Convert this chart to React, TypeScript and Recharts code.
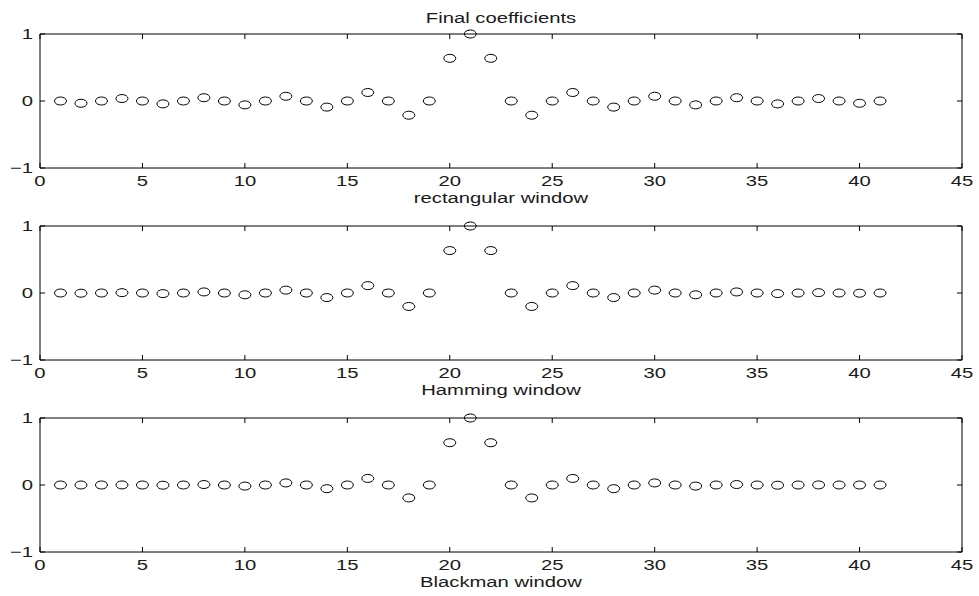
import React from "react";
import { ScatterChart, Scatter, XAxis, YAxis, ReferenceArea } from "recharts";

const sampleIndex = [1,2,3,4,5,6,7,8,9,10,11,12,13,14,15,16,17,18,19,20,21,22,23,24,25,26,27,28,29,30,31,32,33,34,35,36,37,38,39,40,41];

const rectangularCoeffs = [0,-0.034,0,0.037,0,-0.043,0,0.049,0,-0.058,0,0.071,0,-0.091,0,0.127,0,-0.212,0,0.637,1,0.637,0,-0.212,0,0.127,0,-0.091,0,0.071,0,-0.058,0,0.049,0,-0.043,0,0.037,0,-0.034,0];

const hammingCoeffs = [0,-0.003,0,0.005,0,-0.009,0,0.016,0,-0.027,0,0.043,0,-0.068,0,0.11,0,-0.201,0,0.633,1,0.633,0,-0.201,0,0.11,0,-0.068,0,0.043,0,-0.027,0,0.016,0,-0.009,0,0.005,0,-0.003,0];

const blackmanCoeffs = [0,0,0,0.001,0,-0.003,0,0.007,0,-0.016,0,0.031,0,-0.055,0,0.098,0,-0.193,0,0.631,1,0.631,0,-0.193,0,0.098,0,-0.055,0,0.031,0,-0.016,0,0.007,0,-0.003,0,0.001,0,0,0];

const xTicks = [0,5,10,15,20,25,30,35,40,45];
const yTicks = [-1,0,1];

const panelTitles = ["Final coefficients"];
const panelXLabels = ["rectangular window","Hamming window","Blackman window"];

const FONT = "'Liberation Sans', Arial, Helvetica, sans-serif";
const SX = 1.35;
const PLOT_W = 922;
const PLOT_H = 134;
const TICK = 5;

const StretchText = ({ x, y, anchor, children }: any) => (
  <text
    transform={`translate(${x},${y}) scale(${SX},1)`}
    x={0}
    y={0}
    textAnchor={anchor}
    fontFamily={FONT}
    fontSize={15}
    fill="#1a1a1a"
  >
    {children}
  </text>
);

const XTick = (props: any) => {
  const { x, y, payload } = props;
  return (
    <g>
      <line x1={x} x2={x} y1={y} y2={y - TICK} stroke="#000" strokeWidth={1} />
      <line x1={x} x2={x} y1={y - PLOT_H} y2={y - PLOT_H + TICK} stroke="#000" strokeWidth={1} />
      <StretchText x={x} y={y + 18} anchor="middle">{String(payload.value)}</StretchText>
    </g>
  );
};

const YTick = (props: any) => {
  const { x, y, payload } = props;
  const v = payload.value;
  const label = v < 0 ? "\u2212" + Math.abs(v) : String(v);
  return (
    <g>
      <line x1={x} x2={x + TICK} y1={y} y2={y} stroke="#000" strokeWidth={1} />
      <line x1={x + PLOT_W} x2={x + PLOT_W - TICK} y1={y} y2={y} stroke="#000" strokeWidth={1} />
      <StretchText x={x - 7} y={y + 5} anchor="end">{label}</StretchText>
    </g>
  );
};

const Marker = (p: any) => (
  <ellipse cx={p.cx} cy={p.cy} rx={6} ry={4} fill="none" stroke="#000" strokeWidth={1} />
);

const series = [rectangularCoeffs, hammingCoeffs, blackmanCoeffs];
const plotTops = [34, 226, 418];

const Panel = ({ values, top }: { values: number[]; top: number }) => {
  const data = sampleIndex.map((n, i) => ({ x: n, y: values[i] }));
  return (
    <div style={{ position: "absolute", left: 0, top: top - 30 }}>
      <ScatterChart width={979} height={192} margin={{ top: 30, right: 17, bottom: 0, left: 0 }}>
        <XAxis
          type="number"
          dataKey="x"
          domain={[0, 45]}
          ticks={xTicks}
          interval={0}
          tickSize={0}
          tickMargin={0}
          axisLine={false}
          tickLine={false}
          height={28}
          tick={<XTick />}
        />
        <YAxis
          type="number"
          dataKey="y"
          domain={[-1, 1]}
          ticks={yTicks}
          interval={0}
          tickSize={0}
          tickMargin={0}
          axisLine={false}
          tickLine={false}
          width={40}
          tick={<YTick />}
        />
        <ReferenceArea x1={0} x2={45} y1={-1} y2={1} fill="none" fillOpacity={0} stroke="#000" strokeWidth={1} ifOverflow="visible" />
        <Scatter data={data} shape={<Marker />} isAnimationActive={false} />
      </ScatterChart>
    </div>
  );
};

export default function App() {
  return (
    <div style={{ position: "absolute", left: 0, top: 0, width: 979, height: 596, background: "#fff" }}>
      {series.map((vals, i) => (
        <Panel key={i} values={vals} top={plotTops[i]} />
      ))}
      <svg width={979} height={596} style={{ position: "absolute", left: 0, top: 0, pointerEvents: "none" }}>
        <StretchText x={501} y={23} anchor="middle">{panelTitles[0]}</StretchText>
        {panelXLabels.map((t, i) => (
          <StretchText key={t} x={501} y={plotTops[i] + PLOT_H + 35} anchor="middle">{t}</StretchText>
        ))}
      </svg>
    </div>
  );
}
